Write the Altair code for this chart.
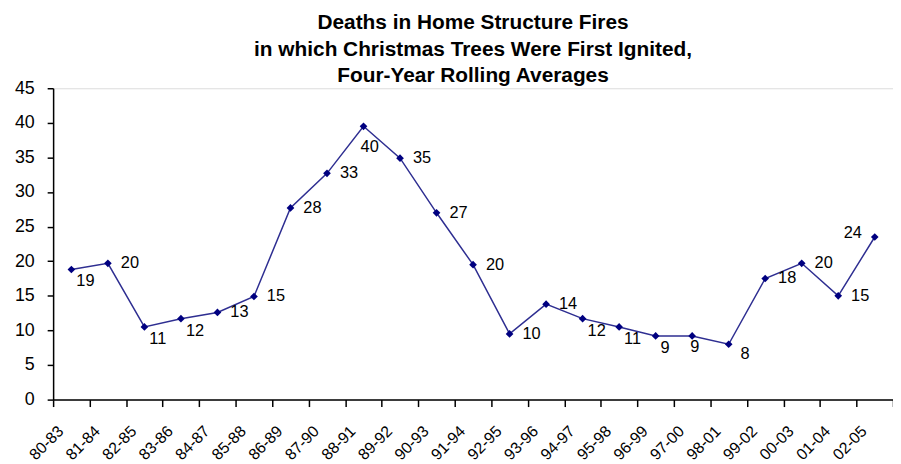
import altair as alt
import pandas as pd

periods = ["80-83", "81-84", "82-85", "83-86", "84-87", "85-88", "86-89", "87-90",
           "88-91", "89-92", "90-93", "91-94", "92-95", "93-96", "94-97", "95-98",
           "96-99", "97-00", "98-01", "99-02", "00-03", "01-04", "02-05"]
deaths = [18.8, 19.7, 10.5, 11.7, 12.6, 14.9, 27.7, 32.7, 39.5, 34.9, 27.0, 19.5,
          9.5, 13.8, 11.7, 10.5, 9.2, 9.2, 8.0, 17.5, 19.7, 15.0, 23.5]
labels = ["19", "20", "11", "12", "13", "15", "28", "33", "40", "35", "27", "20",
          "10", "14", "12", "11", "9", "9", "8", "18", "20", "15", "24"]
placement = ["br", "r", "br", "br", "r", "r", "r", "r", "bb", "r", "r", "r",
             "r", "r", "br", "br", "br", "b", "br2", "r", "r", "r", "l"]

df = pd.DataFrame({"period": periods, "deaths": deaths, "label": labels, "place": placement})

FONT = "Liberation Sans"

x = alt.X(
    "period:O", sort=periods,
    scale=alt.Scale(paddingInner=0, paddingOuter=0),
    axis=alt.Axis(title=None, labelAngle=-45, labelAlign="right", labelBaseline="middle",
                  tickBand="extent", labelOffset=-11, tickSize=7, labelPadding=22,
                  labelFont=FONT, labelFontSize=16, labelColor="black", labelOverlap=False,
                  domainColor="black", tickColor="black", domainWidth=1.5, tickWidth=1.5),
)
y = alt.Y(
    "deaths:Q",
    scale=alt.Scale(domain=[0, 45], nice=False, zero=True),
    axis=alt.Axis(title=None, values=list(range(0, 50, 5)), grid=False, tickSize=6,
                  labelPadding=13, labelFont=FONT, labelFontSize=18, labelColor="black",
                  domainColor="black", tickColor="black", domainWidth=1.5, tickWidth=1.5),
)

base = alt.Chart(df)
line = base.mark_line(color="#2e2e91", strokeWidth=1.5).encode(x=x, y=y)
pts = base.mark_point(shape="diamond", filled=True, size=60, color="#000080", opacity=1).encode(x=x, y=y)

offsets = {
    "r": (13, 0, "left"),
    "br": (5, 12, "left"),
    "b": (-2, 11, "left"),
    "bb": (-3, 21, "left"),
    "br2": (12, 10, "left"),
    "l": (-13, -4, "right"),
}
text_layers = []
for key, (dx, dy, al) in offsets.items():
    text_layers.append(
        base.transform_filter(alt.datum.place == key)
        .mark_text(dx=dx, dy=dy, align=al, baseline="middle", font=FONT, fontSize=16.5, color="black")
        .encode(x=x, y=y, text="label:N")
    )

chart = alt.layer(line, pts, *text_layers).properties(
    width=847, height=314,
    autosize=alt.AutoSizeParams(type="none"),
    padding={"left": 45.5, "top": 79, "right": 0, "bottom": 62},
    title=alt.TitleParams(
        text=["Deaths  in Home Structure Fires",
              "in which Christmas Trees Were First Ignited,",
              "Four-Year Rolling Averages"],
        font=FONT, fontSize=21, fontWeight="bold", color="black",
        lineHeight=27, anchor="middle", frame="group", offset=4, dy=11,
    ),
).configure_view(stroke=None).configure(background="white")

chart.save("out.html", embed_options={"renderer": "svg", "actions": False})
